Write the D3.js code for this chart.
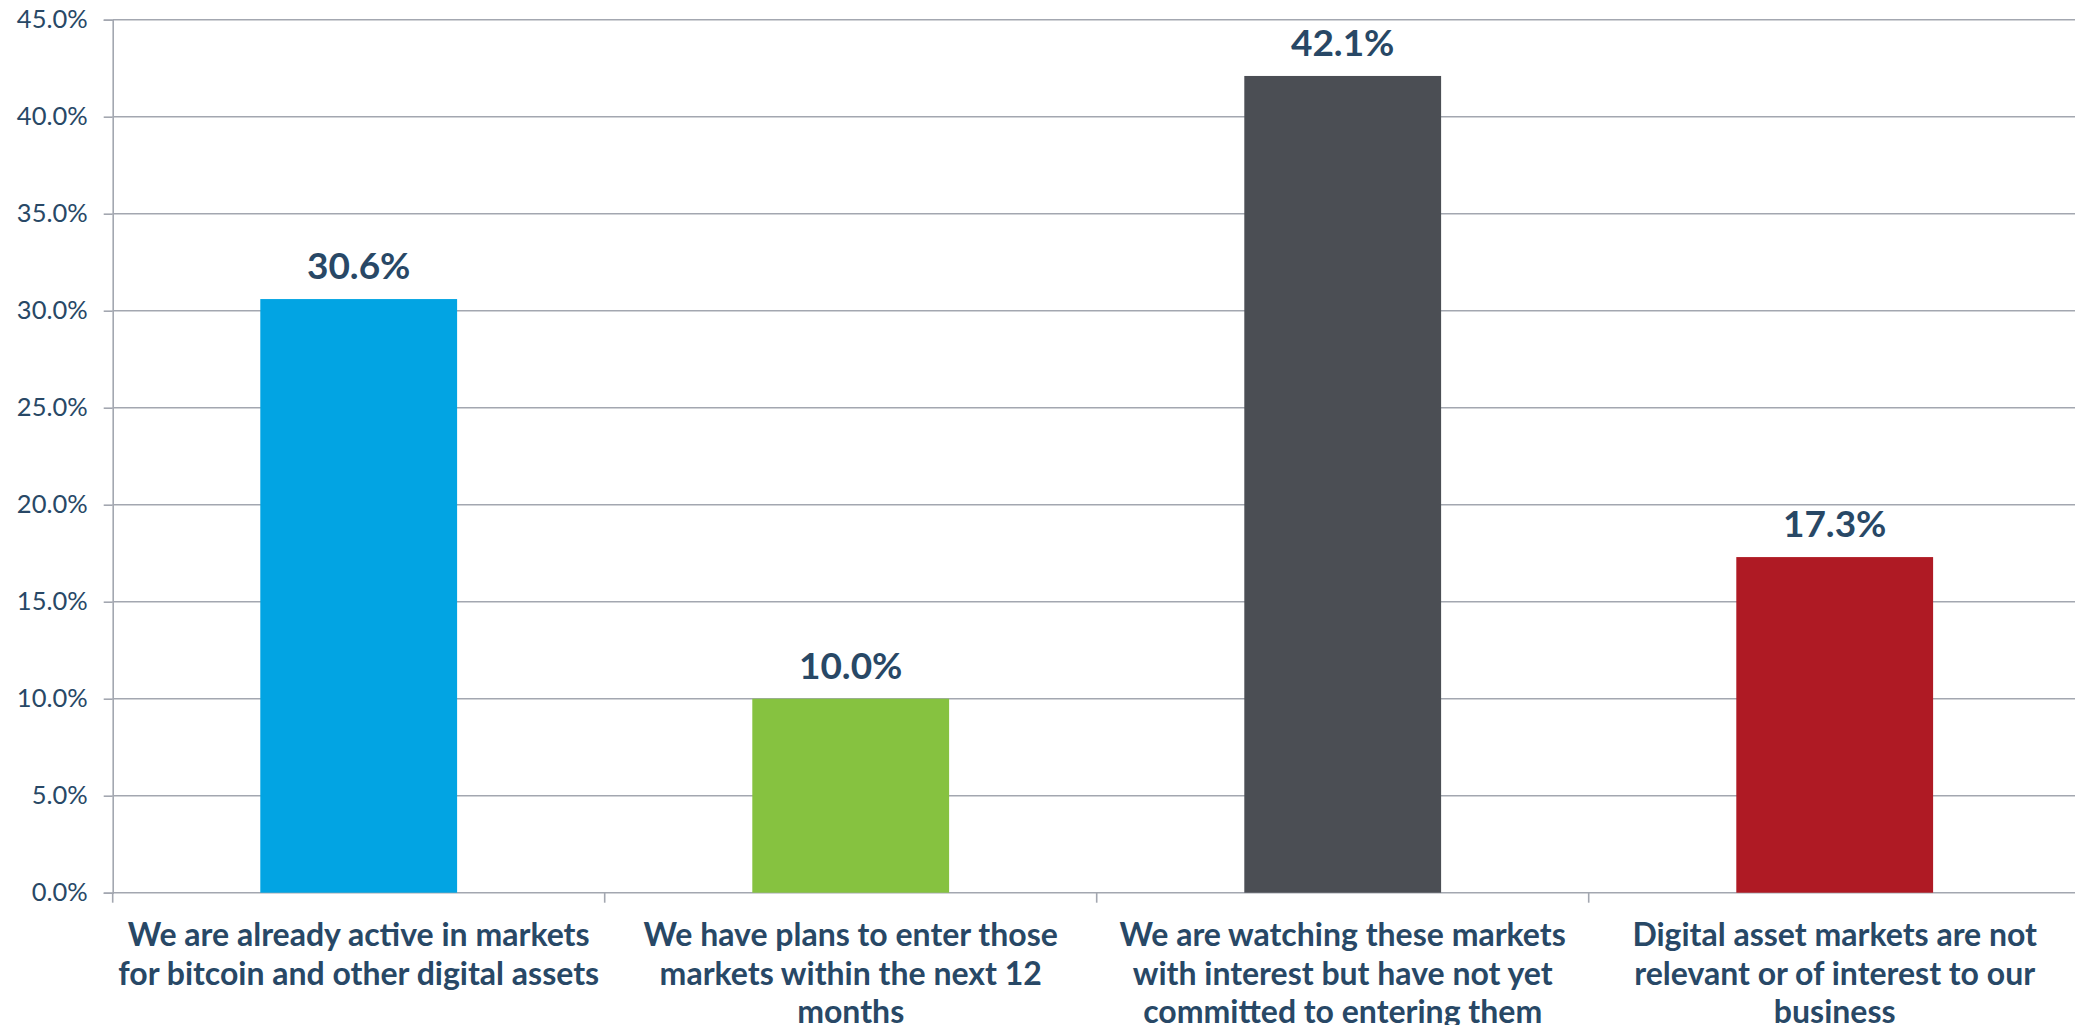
<!DOCTYPE html>
<html>
<head>
<meta charset="utf-8">
<script src="https://cdn.jsdelivr.net/npm/d3@7"></script>
<style>
  html, body { margin: 0; padding: 0; background: #fff; overflow: hidden; }
  svg { display: block; }
</style>
</head>
<body>
<svg id="chart" width="2075" height="1025"></svg>
<script>
const categories = [
  "We are already active in markets for bitcoin and other digital assets",
  "We have plans to enter those markets within the next 12 months",
  "We are watching these markets with interest but have not yet committed to entering them",
  "Digital asset markets are not relevant or of interest to our business"
];
const values = [30.6, 10.0, 42.1, 17.3];
const barColors = ["#02a4e3", "#86c240", "#4b4e54", "#af1a24"];
const yTicks = [0, 5, 10, 15, 20, 25, 30, 35, 40, 45];

(function () {
const textColor = "#284866";
const gridColor = "#a3a7b0";

const svg = d3.select("#chart");
const plotLeft = 112.7, plotRight = 2080.7, plotTop = 19.7, plotBottom = 892.7;

const x = d3.scaleBand().domain(categories).range([plotLeft, plotRight])
  .paddingInner(0.6).paddingOuter(0.3);
const xSep = d3.scaleBand().domain(categories).range([plotLeft, plotRight]).padding(0);
const y = d3.scaleLinear().domain([0, 45]).range([plotBottom, plotTop]);

// gridlines
svg.append("g").selectAll("line").data(yTicks).join("line")
  .attr("x1", plotLeft).attr("x2", 2075)
  .attr("y1", d => y(d)).attr("y2", d => y(d))
  .attr("stroke", gridColor).attr("stroke-width", 1.6);

// y axis
const yAxis = svg.append("g").attr("transform", `translate(${plotLeft},0)`)
  .call(d3.axisLeft(y).tickValues(yTicks).tickSize(9).tickPadding(16)
    .tickFormat(d => d.toFixed(1) + "%"));
yAxis.select(".domain").attr("stroke", gridColor).attr("stroke-width", 1.6);
yAxis.selectAll(".tick line").attr("stroke", gridColor).attr("stroke-width", 1.6);
yAxis.selectAll(".tick text")
  .attr("fill", textColor)
  .style("font-family", "Lato, sans-serif")
  .style("font-size", "25.5px");

// x separator ticks
const sepPositions = categories.map(c => xSep(c));
svg.append("g").selectAll("line").data(sepPositions).join("line")
  .attr("x1", d => d).attr("x2", d => d)
  .attr("y1", plotBottom).attr("y2", plotBottom + 10)
  .attr("stroke", gridColor).attr("stroke-width", 1.6);

// bars
svg.append("g").selectAll("rect").data(values).join("rect")
  .attr("x", (d, i) => x(categories[i]))
  .attr("width", x.bandwidth())
  .attr("y", d => y(d))
  .attr("height", d => plotBottom - y(d))
  .attr("fill", (d, i) => barColors[i]);

// value labels
svg.append("g").selectAll("text").data(values).join("text")
  .attr("x", (d, i) => x(categories[i]) + x.bandwidth() / 2)
  .attr("y", d => y(d) - 20)
  .attr("text-anchor", "middle")
  .attr("fill", textColor)
  .style("font-family", "Lato, sans-serif")
  .style("font-weight", "bold")
  .style("font-size", "37px")
  .text(d => d.toFixed(1) + "%");

// category labels with wrapping
const maxW = 490;
const catG = svg.append("g");
categories.forEach((c, i) => {
  const cx = xSep(c) + xSep.bandwidth() / 2;
  const t = catG.append("text")
    .attr("x", cx).attr("y", 946)
    .attr("text-anchor", "middle")
    .attr("fill", textColor)
    .style("font-family", "Lato, sans-serif")
    .style("font-weight", "bold")
    .style("font-size", "32px");
  const words = c.split(" ");
  let line = [];
  let lineNo = 0;
  let ts = t.append("tspan").attr("x", cx).attr("y", 946);
  words.forEach(w => {
    line.push(w);
    ts.text(line.join(" "));
    if (ts.node().getComputedTextLength() > maxW && line.length > 1) {
      line.pop();
      ts.text(line.join(" "));
      line = [w];
      lineNo++;
      ts = t.append("tspan").attr("x", cx).attr("y", 946 + lineNo * 38.5).text(w);
    }
  });
});
})();
</script>
</body>
</html>
